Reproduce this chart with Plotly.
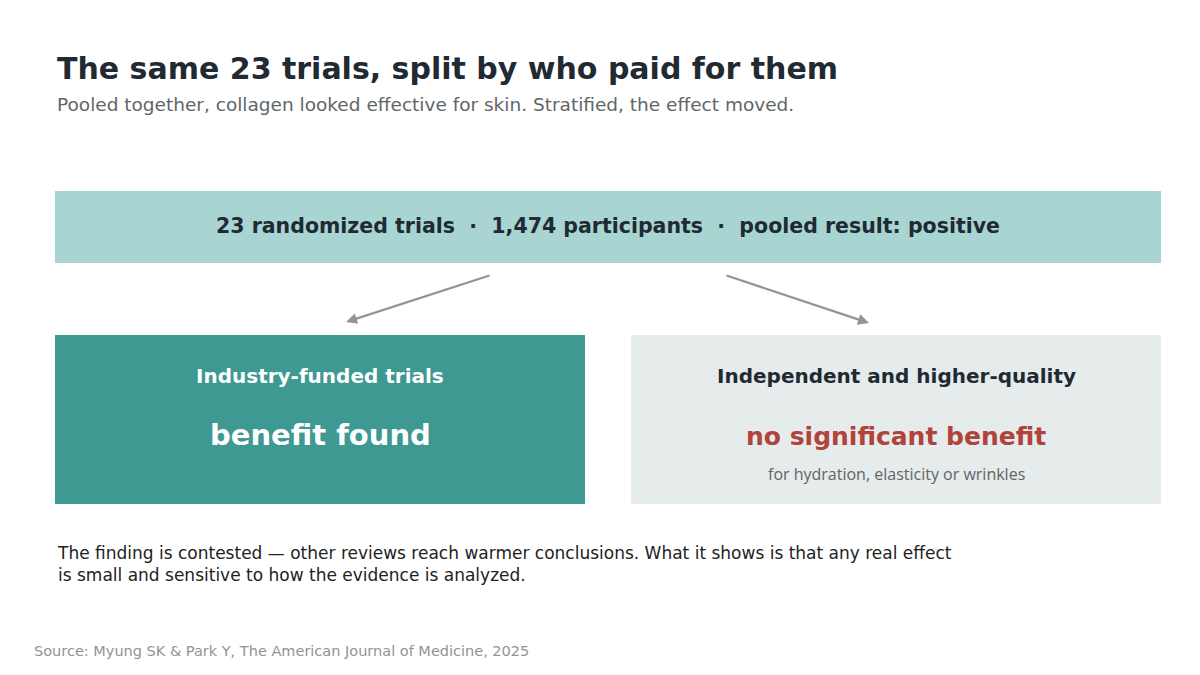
import plotly.graph_objects as go

W, H = 1200, 675
title = "The same 23 trials, split by who paid for them"
subtitle = "Pooled together, collagen looked effective for skin. Stratified, the effect moved."
n_trials = 23
n_participants = "1,474"
pooled = "positive"
groups = ["Industry-funded trials", "Independent and higher-quality"]
results = ["benefit found", "no significant benefit"]
result_note = "for hydration, elasticity or wrinkles"
note = ("The finding is contested — other reviews reach warmer conclusions. What it shows is that any real effect<br>"
        "is small and sensitive to how the evidence is analyzed.")
source = "Source: Myung SK & Park Y, The American Journal of Medicine, 2025"

def px(x): return x / W
def py(y): return 1 - y / H

F = "DejaVu Sans"
fig = go.Figure()
shapes = [
    dict(type="rect", xref="paper", yref="paper", x0=px(47), x1=px(1153), y0=py(255), y1=py(183),
         fillcolor="#a8d5d1", line_width=0, layer="below"),
    dict(type="rect", xref="paper", yref="paper", x0=px(47), x1=px(577), y0=py(496), y1=py(327),
         fillcolor="#3d9992", line_width=0, layer="below"),
    dict(type="rect", xref="paper", yref="paper", x0=px(623), x1=px(1153), y0=py(496), y1=py(327),
         fillcolor="#e6ebeb", line_width=0, layer="below"),
]
ann = []
def t(x, y, text, size, color, bold=False, xanchor="center", font=F):
    ann.append(dict(xref="paper", yref="paper", x=px(x), y=py(y), text=f"<b>{text}</b>" if bold else text,
                    showarrow=False, xanchor=xanchor, yanchor="middle", align="left",
                    font=dict(family=font, size=size, color=color)))
t(47, 60, title, 30, "#1f2a33", True, "left")
t(47, 96, subtitle, 18.5, "#5f6668", False, "left")
t(600, 218, f"{n_trials} randomized trials  ·  {n_participants} participants  ·  pooled result: {pooled}", 20.5, "#1f2a33", True)
t(312, 368, groups[0], 20, "white", True)
t(312, 427, results[0], 29, "white", True)
t(888, 368, groups[1], 20, "#1f2a33", True)
t(888, 428, results[1], 25, "#b0433a", True)
t(888, 466, result_note, 16, "#5f6668", False, font="Open Sans")
t(47, 556, note, 17, "#222222", False, "left")
t(24, 643, source, 14.5, "#8f9496", False, "left")
for (x0, y0, x1, y1) in [(483, 267, 338, 314), (717, 267, 861, 315)]:
    ann.append(dict(xref="x domain", yref="y domain", axref="x domain", ayref="y domain",
                    x=px(x1), y=py(y1), ax=px(x0), ay=py(y0), text="", showarrow=True,
                    arrowhead=2, arrowsize=1, arrowwidth=2.2, arrowcolor="#909595"))
fig.update_layout(width=W, height=H, margin=dict(l=0, r=0, t=0, b=0, pad=0),
                  paper_bgcolor="white", plot_bgcolor="white",
                  xaxis=dict(visible=False, domain=[0, 1]), yaxis=dict(visible=False, domain=[0, 1]),
                  shapes=shapes, annotations=ann, showlegend=False)
fig.write_html("out.html")
